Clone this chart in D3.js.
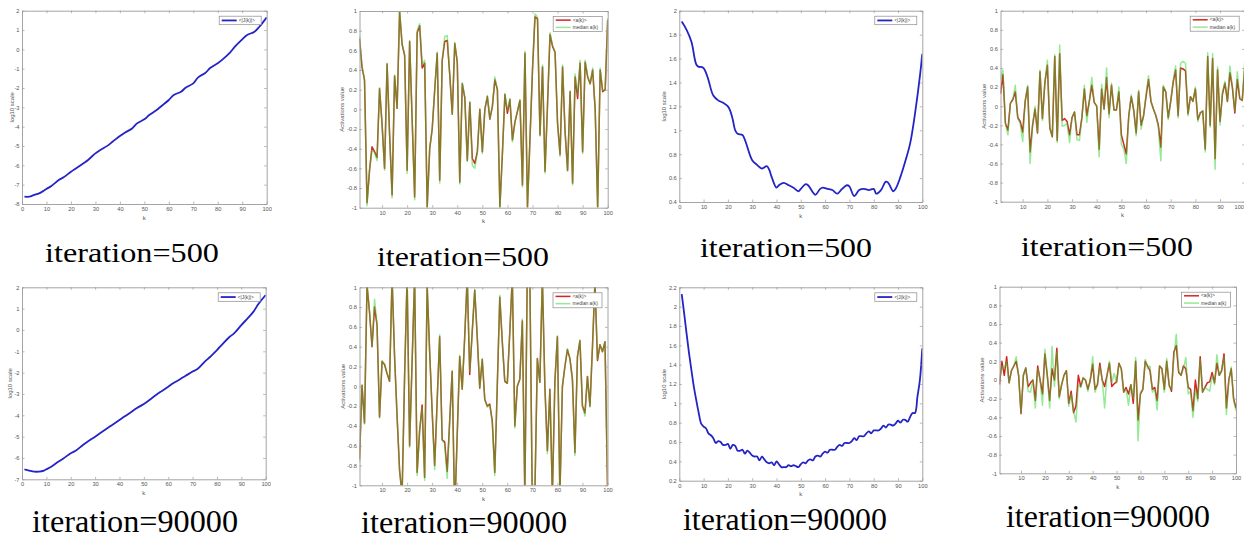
<!DOCTYPE html>
<html>
<head>
<meta charset="utf-8">
<script src="https://cdn.jsdelivr.net/npm/d3@7"></script>
<style>
  body { margin: 0; background: #fff; }
  svg { display: block; font-family: "Liberation Sans", Arial, sans-serif; }
</style>
</head>
<body>
<svg id="fig" width="1244" height="540"></svg>
<script>
// ---- data ----

// tick values
const xTicksLog = [0, 10, 20, 30, 40, 50, 60, 70, 80, 90, 100];
const xTicksAct = [10, 20, 30, 40, 50, 60, 70, 80, 90, 100];
const yTicksLogA500 = [-8, -7, -6, -5, -4, -3, -2, -1, 0, 1, 2];
const yTicksLogA90k = [-7, -6, -5, -4, -3, -2, -1, 0, 1, 2];
const yTicksLogB500 = [0.4, 0.6, 0.8, 1, 1.2, 1.4, 1.6, 1.8, 2];
const yTicksLogB90k = [0.2, 0.4, 0.6, 0.8, 1, 1.2, 1.4, 1.6, 1.8, 2, 2.2];
const yTicksAct = [-1, -0.8, -0.6, -0.4, -0.2, 0, 0.2, 0.4, 0.6, 0.8, 1];

const iterLabels = ["iteration=500", "iteration=90000"];
const legendLog = ["<|J(k)|>"];
const legendAct = ["<a(k)>", "median a(k)"];

// k index for activation panels
const kAll = d3.range(1, 101);

// column 1: log10 <|J(k)|>, network A
const kLogA500 = [1,3,5,7,10,12,15,17,20,22,25,27,30,32,35,37,40,42,45,47,50,52,55,57,60,62,65,67,70,72,75,77,80,82,85,87,90,92,95,97,100];
const logA500 = [-7.62,-7.62,-7.53,-7.45,-7.22,-7.07,-6.76,-6.62,-6.33,-6.16,-5.90,-5.72,-5.38,-5.21,-4.98,-4.78,-4.48,-4.31,-4.09,-3.83,-3.62,-3.40,-3.14,-2.93,-2.62,-2.36,-2.19,-1.97,-1.76,-1.45,-1.21,-0.95,-0.72,-0.52,-0.17,0.14,0.52,0.74,0.91,1.17,1.66];

const kLogA90k = [1,3,5,7,9,10,12,15,17,20,22,25,27,30,32,35,37,40,42,45,47,50,52,55,57,60,62,65,67,70,72,75,77,80,82,85,87,90,92,95,97,100];
const logA90k = [-6.53,-6.59,-6.64,-6.64,-6.59,-6.53,-6.41,-6.17,-6.02,-5.78,-5.66,-5.39,-5.23,-5.00,-4.84,-4.61,-4.45,-4.22,-4.06,-3.83,-3.67,-3.47,-3.31,-3.05,-2.89,-2.66,-2.50,-2.30,-2.16,-1.95,-1.83,-1.48,-1.28,-0.94,-0.70,-0.34,-0.16,0.23,0.47,0.86,1.22,1.64];

// column 3: log10 <|J(k)|>, network B
const kLogB500 = [1,3,5,7,8,9,10,11,12,14,16,18,20,21,22,23,24,26,27,28,30,32,34,36,37,38,40,41,43,45,47,49,50,52,53,55,56,58,59,61,63,65,67,69,70,72,74,76,78,80,81,83,85,86,88,89,91,93,95,97,99,100];
const logB500 = [1.91,1.84,1.74,1.55,1.53,1.53,1.52,1.48,1.42,1.29,1.25,1.23,1.20,1.16,1.09,1.00,0.97,0.96,0.92,0.86,0.75,0.71,0.68,0.70,0.67,0.61,0.52,0.54,0.56,0.54,0.52,0.49,0.51,0.55,0.54,0.48,0.46,0.51,0.52,0.51,0.50,0.47,0.51,0.54,0.53,0.45,0.50,0.51,0.50,0.51,0.47,0.50,0.57,0.56,0.49,0.51,0.61,0.74,0.89,1.14,1.45,1.64];

const logB90k = [2.13,1.93,1.72,1.52,1.34,1.17,1.03,0.90,0.79,0.76,
  0.74,0.69,0.67,0.64,0.59,0.61,0.60,0.57,0.57,0.58,
  0.53,0.57,0.56,0.51,0.51,0.52,0.48,0.51,0.49,0.46,
  0.45,0.45,0.41,0.45,0.42,0.39,0.38,0.39,0.36,0.40,
  0.37,0.34,0.34,0.34,0.36,0.35,0.36,0.35,0.34,0.37,
  0.39,0.38,0.41,0.42,0.41,0.45,0.46,0.45,0.48,0.50,
  0.49,0.52,0.52,0.52,0.55,0.57,0.56,0.59,0.59,0.59,
  0.61,0.64,0.62,0.66,0.66,0.66,0.69,0.71,0.69,0.72,
  0.72,0.72,0.74,0.77,0.75,0.78,0.78,0.77,0.79,0.82,
  0.80,0.83,0.83,0.81,0.86,0.90,0.90,1.07,1.24,1.57];

// column 2: activations, network A
const actA500Mean = [0.72,0.43,0.30,-0.95,-0.62,-0.38,-0.43,-0.49,0.21,-0.15,
  -0.60,0.46,-0.25,-0.87,0.34,0.01,0.99,0.66,0.55,-0.62,
  0.69,-0.10,-0.89,0.78,0.85,0.42,0.47,-0.99,-0.40,-0.20,
  0.20,0.57,-0.72,0.50,0.69,0.70,0.35,-0.05,0.67,0.48,
  -0.74,0.26,0.12,-0.52,0.07,-0.50,-0.55,-0.43,0.00,-0.43,
  0.00,0.13,-0.10,0.03,0.30,0.20,-0.99,-0.45,0.15,-0.04,
  0.10,-0.31,-0.13,-0.02,0.09,-0.77,0.57,-0.99,-0.30,0.40,
  0.94,0.92,-0.26,0.43,-0.63,0.05,0.76,0.64,0.58,-0.14,
  -0.46,0.43,-0.23,-0.62,0.18,-0.75,0.33,0.11,0.47,-0.43,
  0.48,0.33,0.26,0.40,0.00,-0.99,0.40,0.18,0.20,0.91];
const actA500Median = [0.75,0.44,0.30,-0.98,-0.62,-0.41,-0.44,-0.52,0.22,-0.15,
  -0.62,0.47,-0.25,-0.90,0.35,0.01,1.02,0.66,0.55,-0.65,
  0.70,-0.10,-0.92,0.80,0.87,0.45,0.50,-1.02,-0.40,-0.20,
  0.20,0.58,-0.75,0.50,0.74,0.75,0.35,-0.05,0.68,0.48,
  -0.76,0.27,0.12,-0.53,0.08,-0.57,-0.60,-0.44,0.00,-0.45,
  0.00,0.14,-0.10,0.03,0.33,0.20,-1.02,-0.45,0.16,-0.01,
  0.11,-0.33,-0.13,-0.02,0.10,-0.79,0.59,-1.02,-0.30,0.40,
  0.97,0.94,-0.27,0.45,-0.65,0.05,0.78,0.65,0.58,-0.15,
  -0.48,0.45,-0.23,-0.63,0.19,-0.77,0.36,0.15,0.50,-0.45,
  0.50,0.34,0.26,0.42,0.00,-1.02,0.42,0.19,0.20,0.93];

const actA90kMean = [-0.74,0.01,-0.37,1.02,0.75,0.40,0.80,0.62,-0.31,0.25,
  0.22,0.13,0.05,1.10,0.30,-0.30,-0.85,-1.10,0.10,1.10,
  -0.60,0.25,1.10,-0.87,-0.45,-0.19,-0.92,1.02,0.35,-0.25,
  -0.80,-0.15,0.50,-0.54,-0.56,-0.86,-0.35,0.15,-1.30,-0.50,
  0.30,-0.03,0.50,1.10,0.12,0.55,0.97,0.50,-0.02,0.27,
  -0.13,-0.20,-0.18,-0.35,-0.87,0.00,0.90,0.45,0.05,0.03,
  0.55,1.10,-0.40,0.00,0.07,0.66,-1.10,1.20,1.10,-1.20,
  -1.10,0.28,0.04,1.10,0.00,-0.65,-0.03,-1.10,0.05,0.50,
  -1.10,0.00,0.20,0.37,0.28,0.07,-0.67,0.30,0.46,-0.20,
  -0.27,0.10,-0.20,0.40,1.05,0.26,0.42,0.35,0.45,-1.00];
const actA90kMedian = [-0.77,0.01,-0.38,1.02,0.75,0.40,0.88,0.62,-0.32,0.26,
  0.22,0.13,0.05,1.10,0.30,-0.30,-0.85,-1.10,0.10,1.10,
  -0.62,0.25,1.10,-0.90,-0.45,-0.22,-0.95,1.02,0.35,-0.25,
  -0.84,-0.15,0.52,-0.55,-0.58,-0.93,-0.35,0.16,-1.30,-0.50,
  0.31,-0.03,0.50,1.10,0.15,0.55,0.98,0.50,-0.02,0.28,
  -0.13,-0.21,-0.19,-0.36,-0.90,0.00,0.92,0.45,0.05,0.03,
  0.55,1.10,-0.42,0.00,0.07,0.68,-1.10,1.20,1.10,-1.20,
  -1.10,0.28,0.04,1.10,0.00,-0.68,-0.03,-1.10,0.05,0.51,
  -1.10,0.00,0.20,0.38,0.28,0.07,-0.70,0.30,0.47,-0.20,
  -0.30,0.10,-0.21,0.40,1.05,0.27,0.42,0.35,0.45,-1.00];

// column 4: activations, network B
const actB500Mean = [0.13,0.33,-0.18,-0.25,0.03,0.07,0.15,-0.12,-0.16,-0.27,
  0.05,0.20,-0.48,-0.20,-0.03,-0.28,0.36,-0.13,0.25,0.43,
  -0.23,-0.32,0.52,-0.36,0.55,-0.15,-0.13,-0.16,-0.30,-0.12,
  -0.06,-0.30,-0.30,-0.12,0.18,-0.10,0.05,0.22,0.04,0.00,
  -0.45,0.18,-0.03,0.30,-0.08,0.22,-0.04,-0.04,0.15,-0.30,
  -0.40,-0.50,-0.10,0.10,-0.04,-0.28,0.15,-0.20,-0.10,0.10,
  0.28,0.05,-0.03,-0.10,-0.20,-0.43,0.20,0.15,-0.12,0.05,
  0.25,0.38,-0.10,0.40,0.39,0.37,-0.08,0.10,0.05,0.18,
  -0.14,-0.07,-0.05,-0.45,0.52,-0.20,0.50,-0.55,0.38,-0.16,
  0.13,0.24,0.05,0.35,0.20,-0.07,0.28,0.08,0.06,0.40];
const actB500Median = [0.28,0.38,-0.18,-0.30,0.03,0.07,0.22,-0.13,-0.18,-0.37,
  0.05,0.22,-0.60,-0.20,0.00,-0.28,0.38,-0.15,0.25,0.48,
  -0.23,-0.32,0.54,-0.38,0.64,-0.21,-0.20,-0.18,-0.38,-0.12,
  -0.06,-0.35,-0.36,-0.12,0.22,-0.17,0.05,0.30,0.04,0.00,
  -0.53,0.23,-0.03,0.40,-0.12,0.24,-0.04,-0.04,0.20,-0.40,
  -0.45,-0.60,-0.10,0.12,-0.04,-0.31,0.17,-0.24,-0.10,0.12,
  0.32,0.05,-0.03,-0.10,-0.22,-0.57,0.22,0.15,-0.14,0.05,
  0.27,0.42,-0.12,0.45,0.47,0.45,-0.10,0.10,0.05,0.20,
  -0.16,-0.07,-0.05,-0.48,0.56,-0.22,0.55,-0.66,0.41,-0.20,
  0.15,0.26,0.05,0.42,0.20,-0.05,0.36,0.08,0.06,0.47];

const actB90kMean = [-0.05,0.20,0.05,0.25,-0.03,0.10,0.15,0.20,0.05,-0.36,
  0.05,0.13,-0.07,-0.03,0.00,-0.22,0.15,0.00,-0.15,0.28,
  0.05,-0.22,0.12,0.00,0.34,-0.18,-0.05,0.05,0.10,-0.25,
  -0.12,-0.35,-0.28,0.05,-0.07,0.02,0.00,-0.10,0.00,0.17,
  -0.10,-0.05,0.18,0.00,-0.07,0.05,0.18,-0.07,-0.04,-0.02,
  0.18,0.12,-0.13,-0.08,-0.15,-0.05,-0.25,0.20,-0.43,-0.15,
  -0.10,0.20,0.15,0.10,-0.10,-0.08,-0.22,0.15,0.12,-0.10,
  0.20,-0.05,-0.12,0.30,0.37,0.08,0.05,0.15,0.12,-0.08,
  -0.10,-0.33,0.00,-0.20,0.25,-0.13,-0.08,-0.03,-0.02,0.08,
  -0.03,0.18,0.05,0.10,0.28,-0.30,0.00,0.12,-0.20,-0.30];
const actB90kMedian = [0.00,0.15,0.12,0.20,-0.03,0.10,0.15,0.25,0.05,-0.35,
  0.05,0.13,-0.12,-0.13,0.00,-0.30,0.12,0.00,-0.27,0.33,
  0.05,-0.30,0.36,-0.07,0.30,-0.20,-0.05,0.05,0.10,-0.28,
  -0.15,-0.33,-0.45,-0.05,-0.08,0.03,0.00,-0.12,0.00,0.25,
  -0.13,-0.05,0.15,0.00,-0.30,0.05,0.20,-0.03,0.07,-0.03,
  0.17,0.12,-0.13,-0.10,-0.27,-0.05,-0.20,0.24,-0.65,-0.13,
  -0.10,0.22,0.12,0.15,-0.13,-0.10,-0.32,0.15,0.12,-0.13,
  0.23,-0.07,-0.10,0.25,0.49,0.10,0.05,0.12,0.24,-0.15,
  -0.12,-0.40,-0.10,-0.23,0.22,-0.13,-0.08,-0.10,-0.12,0.05,
  -0.05,0.27,0.05,0.10,0.25,-0.37,0.00,0.14,-0.22,-0.33];

// ---- styling ----
const blue = "#2424c6";
const red = "#d82222";
const green = "#2ed42e";
const axisColor = "#9a9a9a";
const labelColor = "#555";
const W = 1244, H = 540;

const svg = d3.select("#fig");
svg.append("rect").attr("width", W).attr("height", H).attr("fill", "#fff");

const panels = [
  { id: "a1", box: { l: 22, r: 266.7, t: 10.7, b: 204 }, xDomain: [0, 100], yDomain: [-8, 2],
    xTicks: xTicksLog, yTicks: yTicksLogA500, yLabel: "log10 scale", yOff: 10, kind: "log",
    series: [{ k: kLogA500, v: logA500 }] },
  { id: "a2", box: { l: 359.5, r: 607.7, t: 11, b: 207.7 }, xDomain: [1, 100], yDomain: [-1, 1],
    xTicks: xTicksAct, yTicks: yTicksAct, yLabel: "Activations value", yOff: 17.5, kind: "act",
    series: [{ k: kAll, v: actA500Mean }, { k: kAll, v: actA500Median }] },
  { id: "a3", box: { l: 679.3, r: 922.3, t: 10.7, b: 202 }, xDomain: [0, 100], yDomain: [0.4, 2],
    xTicks: xTicksLog, yTicks: yTicksLogB500, yLabel: "log10 scale", yOff: 15, kind: "log",
    series: [{ k: kLogB500, v: logB500 }] },
  { id: "a4", box: { l: 1000.5, r: 1244.7, t: 10.7, b: 201.7 }, xDomain: [1, 100], yDomain: [-1, 1],
    xTicks: xTicksAct, yTicks: yTicksAct, yLabel: "Activations value", yOff: 16.5, kind: "act",
    series: [{ k: kAll, v: actB500Mean }, { k: kAll, v: actB500Median }] },
  { id: "b1", box: { l: 22, r: 265.7, t: 287.3, b: 479.3 }, xDomain: [0, 100], yDomain: [-7, 2],
    xTicks: xTicksLog, yTicks: yTicksLogA90k, yLabel: "log10 scale", yOff: 12, kind: "log",
    series: [{ k: kLogA90k, v: logA90k }] },
  { id: "b2", box: { l: 359.5, r: 607.5, t: 287.3, b: 485.3 }, xDomain: [1, 100], yDomain: [-1, 1],
    xTicks: xTicksAct, yTicks: yTicksAct, yLabel: "Activations value", yOff: 17, kind: "act",
    series: [{ k: kAll, v: actA90kMean }, { k: kAll, v: actA90kMedian }] },
  { id: "b3", box: { l: 679.3, r: 922.3, t: 287.3, b: 480.7 }, xDomain: [0, 100], yDomain: [0.2, 2.2],
    xTicks: xTicksLog, yTicks: yTicksLogB90k, yLabel: "log10 scale", yOff: 15, kind: "log",
    series: [{ k: kAll, v: logB90k }] },
  { id: "b4", box: { l: 999.5, r: 1236, t: 286.7, b: 473.3 }, xDomain: [1, 100], yDomain: [-1, 1],
    xTicks: xTicksAct, yTicks: yTicksAct, yLabel: "Activations value", yOff: 17.2, kind: "act",
    series: [{ k: kAll, v: actB90kMean }, { k: kAll, v: actB90kMedian }] }
];

// positions of the "iteration=..." captions (x start, width, baseline, font size)
const captions = [
  { text: iterLabels[0], x: 45, w: 174, y: 262, fs: 27 },
  { text: iterLabels[0], x: 377, w: 172, y: 266, fs: 27 },
  { text: iterLabels[0], x: 700, w: 172, y: 257, fs: 27 },
  { text: iterLabels[0], x: 1021, w: 172, y: 256, fs: 27 },
  { text: iterLabels[1], x: 32, w: 206, y: 532, fs: 32 },
  { text: iterLabels[1], x: 361, w: 206, y: 533, fs: 32 },
  { text: iterLabels[1], x: 683, w: 204, y: 530, fs: 32 },
  { text: iterLabels[1], x: 1006, w: 204, y: 527, fs: 32 }
];

const fmt = d => String(+d.toFixed(1));

function drawPanel(p) {
  const x = d3.scaleLinear().domain(p.xDomain).range([p.box.l, p.box.r]);
  const y = d3.scaleLinear().domain(p.yDomain).range([p.box.b, p.box.t]);
  const g = svg.append("g").attr("class", "panel");

  g.append("rect")
    .attr("x", p.box.l).attr("y", p.box.t)
    .attr("width", p.box.r - p.box.l).attr("height", p.box.b - p.box.t)
    .attr("fill", "#fff");

  g.append("clipPath").attr("id", "clip-" + p.id)
    .append("rect")
    .attr("x", p.box.l).attr("y", p.box.t)
    .attr("width", p.box.r - p.box.l).attr("height", p.box.b - p.box.t);

  const plot = g.append("g").attr("clip-path", `url(#clip-${p.id})`);

  if (p.kind === "log") {
    const s = p.series[0];
    const line = d3.line()
      .x((d, i) => x(s.k[i]))
      .y(d => y(d))
      .curve(d3.curveCatmullRom.alpha(0.5));
    plot.append("path").datum(s.v)
      .attr("fill", "none").attr("stroke", blue)
      .attr("stroke-width", 1.8).attr("stroke-linejoin", "round")
      .attr("d", line);
  } else {
    const [mean, median] = p.series;
    const lineOf = s => d3.line().x((d, i) => x(s.k[i])).y(d => y(d));
    plot.append("path").datum(mean.v)
      .attr("fill", "none").attr("stroke", red)
      .attr("stroke-width", 1.5).attr("stroke-linejoin", "round")
      .attr("d", lineOf(mean));
    plot.append("path").datum(median.v)
      .attr("fill", "none").attr("stroke", green).attr("stroke-opacity", 0.5)
      .attr("stroke-width", 1.5).attr("stroke-linejoin", "round")
      .attr("d", lineOf(median));
  }

  // axes, ticks pointing inward on all four sides
  const styleAxis = sel => {
    sel.selectAll("path.domain").attr("stroke", axisColor).attr("stroke-width", 0.9);
    sel.selectAll(".tick line").attr("stroke", axisColor).attr("stroke-width", 0.7);
    sel.selectAll(".tick text").attr("fill", labelColor)
      .style("font-size", "5.7px").style("font-family", "Liberation Sans, Arial, sans-serif");
  };

  const xAxisG = g.append("g").attr("transform", `translate(0,${p.box.b})`)
    .call(d3.axisBottom(x).tickValues(p.xTicks).tickFormat(fmt).tickSize(-2.5).tickSizeOuter(0).tickPadding(3))
    .call(styleAxis);
  // keep a tick label that would run past the page edge inside it
  xAxisG.selectAll(".tick").each(function (d) {
    if (x(d) + 5 > W) d3.select(this).select("text").attr("text-anchor", "end").attr("x", W - x(d) - 0.5);
  });
  g.append("g").attr("transform", `translate(0,${p.box.t})`)
    .call(d3.axisTop(x).tickValues(p.xTicks).tickFormat("").tickSize(-2.5).tickSizeOuter(0))
    .call(styleAxis);
  g.append("g").attr("transform", `translate(${p.box.l},0)`)
    .call(d3.axisLeft(y).tickValues(p.yTicks).tickFormat(fmt).tickSize(-2.5).tickSizeOuter(0).tickPadding(2.5))
    .call(styleAxis);
  g.append("g").attr("transform", `translate(${p.box.r},0)`)
    .call(d3.axisRight(y).tickValues(p.yTicks).tickFormat("").tickSize(-2.5).tickSizeOuter(0))
    .call(styleAxis);
  g.selectAll(".domain").attr("fill", "none");

  // axis titles
  g.append("text")
    .attr("x", (p.box.l + p.box.r) / 2).attr("y", p.box.b + 15.5)
    .attr("text-anchor", "middle").attr("fill", labelColor)
    .style("font-size", "6px").text("k");
  const cy = (p.box.t + p.box.b) / 2;
  const cx = p.box.l - p.yOff;
  g.append("text")
    .attr("transform", `translate(${cx},${cy}) rotate(-90)`)
    .attr("dy", "0.35em").attr("text-anchor", "middle").attr("fill", labelColor)
    .style("font-size", "6px").text(p.yLabel);

  drawLegend(g, p);
}

function drawLegend(g, p) {
  const isLog = p.kind === "log";
  const w = isLog ? 42 : 49;
  const h = isLog ? 8.5 : 15;
  const bx = p.box.r - 5.5 - w;
  const by = p.box.t + 5.5;
  const lg = g.append("g");
  lg.append("rect")
    .attr("x", bx).attr("y", by).attr("width", w).attr("height", h)
    .attr("fill", "#fff").attr("stroke", "#8a8a8a").attr("stroke-width", 0.7);

  const entries = isLog
    ? [{ label: legendLog[0], color: blue, op: 1, width: 1.8 }]
    : [{ label: legendAct[0], color: red, op: 1, width: 1.5 },
       { label: legendAct[1], color: green, op: 0.5, width: 1.5 }];
  entries.forEach((e, i) => {
    const yy = by + (isLog ? h / 2 : 3.6 + i * 7.3);
    lg.append("line")
      .attr("x1", bx + 2.5).attr("x2", bx + 17.5)
      .attr("y1", yy).attr("y2", yy)
      .attr("stroke", e.color).attr("stroke-opacity", e.op).attr("stroke-width", e.width);
    lg.append("text")
      .attr("x", bx + 19.5).attr("y", yy).attr("dy", "0.35em")
      .attr("fill", "#444").style("font-size", "4.8px").text(e.label);
  });
}

panels.forEach(drawPanel);

// captions under each plot
svg.append("g").selectAll("text")
  .data(captions)
  .enter()
  .append("text")
  .attr("x", d => d.x)
  .attr("y", d => d.y)
  .attr("textLength", d => d.w)
  .attr("lengthAdjust", "spacingAndGlyphs")
  .style("font-family", "Liberation Serif, Times New Roman, serif")
  .style("font-size", d => d.fs + "px")
  .attr("fill", "#000")
  .text(d => d.text);
</script>
</body>
</html>
